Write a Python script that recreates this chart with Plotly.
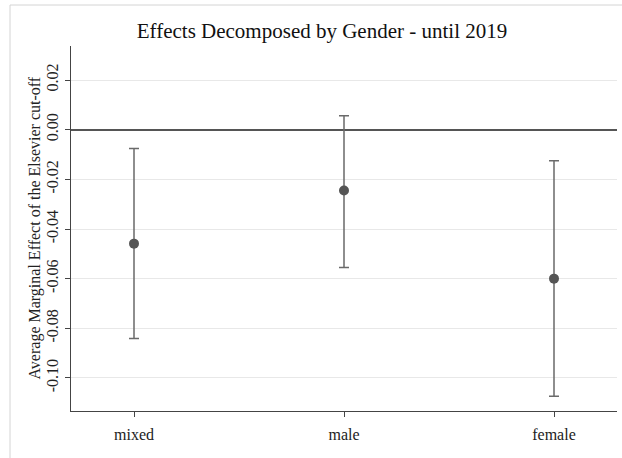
import plotly.graph_objects as go

categories = ["mixed", "male", "female"]
estimates = [-0.0459, -0.0245, -0.0600]
ci_lower = [-0.0841, -0.0555, -0.1074]
ci_upper = [-0.0076, 0.0056, -0.0125]
y_tick_vals = [0.02, 0.00, -0.02, -0.04, -0.06, -0.08, -0.10]
y_tick_text = ["0.02", "0.00", "-0.02", "-0.04", "-0.06", "-0.08", "-0.10"]

FONT = "Liberation Serif"
x_pos = list(range(len(categories)))

fig = go.Figure()
fig.add_trace(go.Scatter(
    x=x_pos, y=estimates, mode="markers",
    marker=dict(color="#555555", size=10),
    error_y=dict(
        type="data", symmetric=False,
        array=[u - e for u, e in zip(ci_upper, estimates)],
        arrayminus=[e - l for e, l in zip(estimates, ci_lower)],
        color="#6a6a6a", thickness=1.5, width=5,
    ),
    showlegend=False,
))

fig.update_layout(
    template="none",
    width=622, height=458,
    margin=dict(l=71, r=5, t=46, b=47),
    paper_bgcolor="white", plot_bgcolor="white",
    font=dict(family=FONT, color="#222222"),
    title=dict(text="Effects Decomposed by Gender - until 2019",
               x=322/622, xanchor="center", y=1 - 31/458, yanchor="middle",
               font=dict(family=FONT, size=21, color="#111111")),
    xaxis=dict(
        range=[-0.3, 2.3], tickvals=x_pos, ticktext=categories,
        showgrid=False, zeroline=False, automargin=False,
        showline=True, linecolor="#444444", linewidth=1.2,
        ticks="outside", ticklen=5, tickcolor="#444444", ticklabelstandoff=4,
        tickfont=dict(family=FONT, size=16, color="#222222"),
    ),
    yaxis=dict(
        range=[-0.1133, 0.0337], tickvals=y_tick_vals, ticktext=y_tick_text,
        tickangle=-90, automargin=False,
        showgrid=True, gridcolor="#e8e8e8", gridwidth=1,
        zeroline=True, zerolinecolor="#555555", zerolinewidth=1.5,
        showline=True, linecolor="#444444", linewidth=1.2,
        ticks="outside", ticklen=5, tickcolor="#444444", ticklabelstandoff=1,
        tickfont=dict(family=FONT, size=16, color="#222222"),
    ),
    annotations=[dict(text="Average Marginal Effect of the Elsevier cut-off",
                      xref="paper", yref="paper", x=(34 - 71) / 546, y=0.5,
                      xanchor="center", yanchor="middle", textangle=-90,
                      showarrow=False,
                      font=dict(family=FONT, size=16, color="#222222"))],
    shapes=[dict(type="rect", xref="paper", yref="paper",
                 x0=(10 - 71) / 546, x1=1.3, y0=-0.3, y1=1 + 41 / 365,
                 line=dict(color="#d4d4d4", width=1), fillcolor="rgba(0,0,0,0)",
                 layer="below")],
)

fig.write_html("out.html", config={"displayModeBar": False},
               post_script="document.body.style.margin='0';")
